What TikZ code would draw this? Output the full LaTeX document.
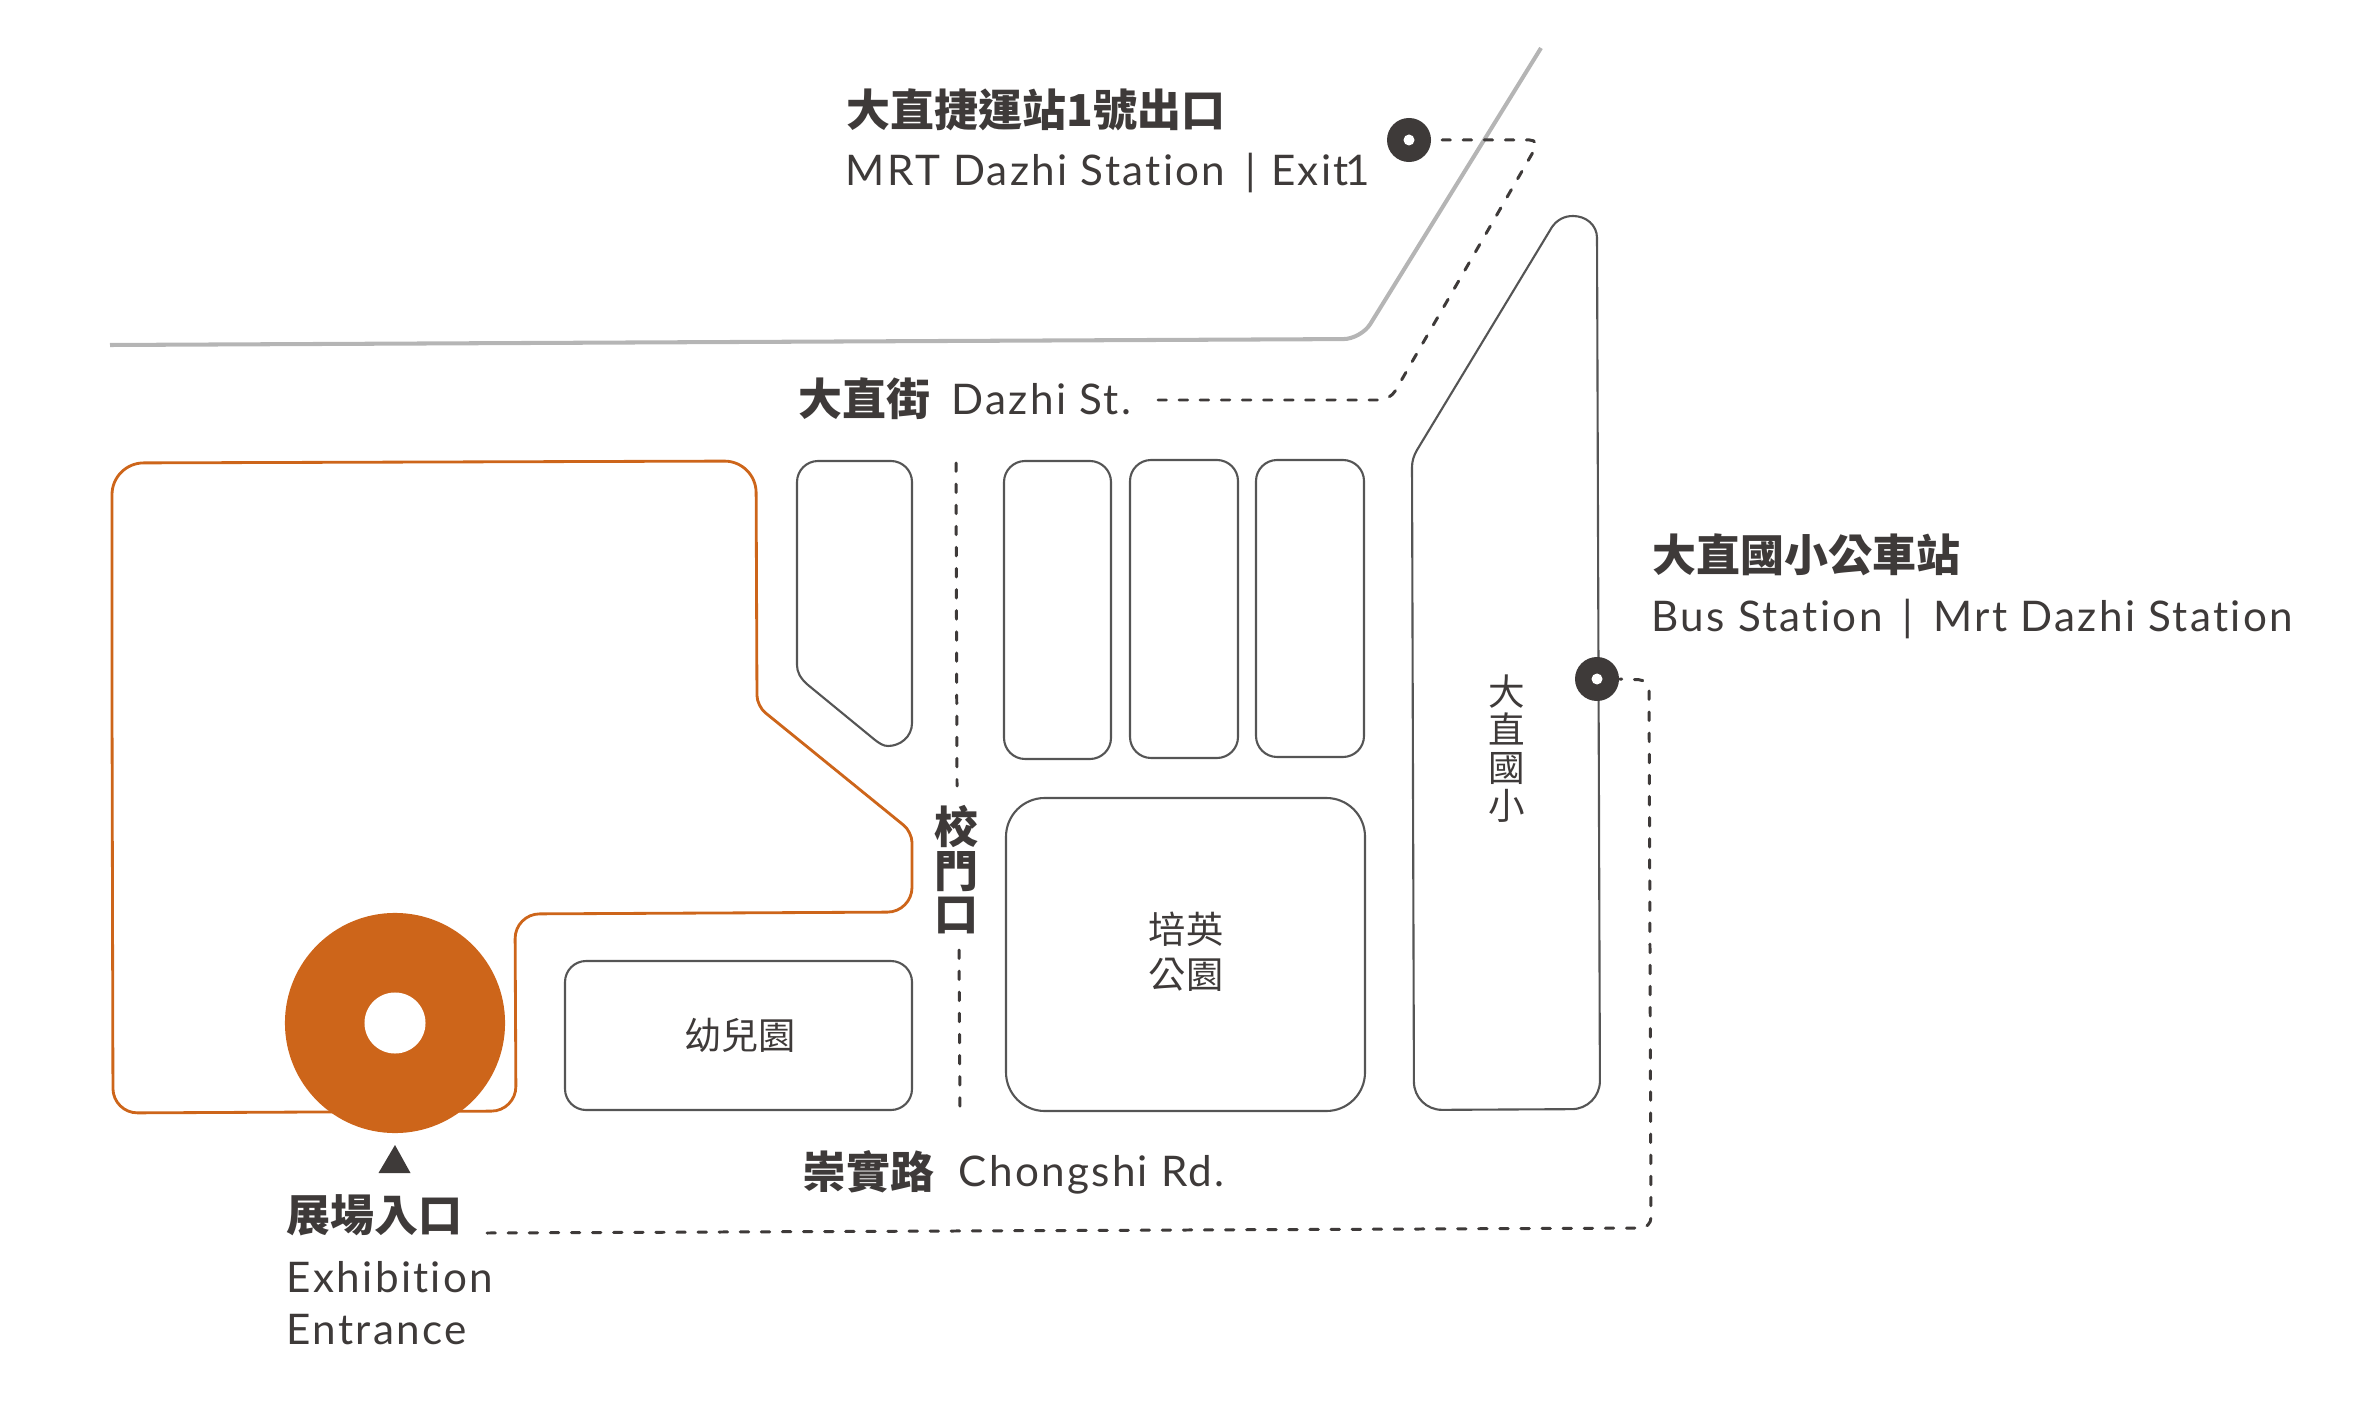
\documentclass[tikz,border=0pt]{standalone}
\usepackage{fontspec}
\setmainfont{Lato}[LetterSpace=5.5,Ligatures=CommonOff]
\newfontfamily\cjkfont{Noto Sans CJK TC}
\definecolor{MapInk}{RGB}{62,58,57}
\definecolor{MapOrange}{RGB}{205,101,26}
\definecolor{RoadGray}{RGB}{181,181,181}
\definecolor{BlockGray}{RGB}{85,85,85}
\tikzset{
  titletext/.style={anchor=base west,inner sep=0pt,text=MapInk,font=\cjkfont\bfseries\fontsize{12.5}{12.5}\selectfont},
  nametext/.style={anchor=base west,inner sep=0pt,text=MapInk,font=\fontsize{12}{12}\selectfont},
  blocktext/.style={inner sep=0pt,align=center,text=MapInk,font=\cjkfont\fontsize{10.6}{12.8}\selectfont},
  block/.style={draw=BlockGray,line width=0.6pt,rounded corners=6pt},
  siteline/.style={draw=MapOrange,line width=0.8pt},
  walkline/.style={draw=MapInk,line width=0.85pt,line cap=round,dash pattern=on 2.4pt off 3.6pt,rounded corners=3pt},
  stationdot/.style={circle,fill=MapInk,inner sep=0pt,minimum size=0.44cm},
  stationhole/.style={circle,fill=white,inner sep=0pt,minimum size=0.11cm}
}
\begin{document}
\begin{tikzpicture}[x=0.01cm,y=-0.01cm]
        \useasboundingbox (0,0) rectangle (2364,1419);
        % road and blocks
        \draw[RoadGray,line width=1.15pt,rounded corners=5pt] (110,345) -- (1361,339) -- (1541,48);
        \draw[siteline,rounded corners=9pt] (112,700) -- (112,463) -- (756,461) [rounded corners=3pt] -- (757,706) -- (912,832) [rounded corners=7pt] -- (912,912) -- (515,914) -- (516,1111) -- (113,1113) -- cycle;
        \draw[block] (797,665) -- (797,461) -- (912,461) [sharp corners] -- (912,723) .. controls (912,737) and (900,746) .. (888,746) .. controls (883,746) and (879,743) .. (875,740) -- (808,685) .. controls (800,678) and (797,672) .. (797,665) -- cycle;
        \draw[block] (1004,461) rectangle (1111,759);
        \draw[block] (1130,460) rectangle (1238,758);
        \draw[block] (1256,460) rectangle (1364,757);
        \draw[block,rounded corners=11pt] (1006,798) rectangle (1365,1111);
        \draw[block] (565,961) rectangle (912,1110);
        \draw[block,sharp corners] (1597,238) .. controls (1597,225) and (1586,216) .. (1573,216) .. controls (1564,216) and (1557,220) .. (1552,227) -- (1417,450) .. controls (1414,455) and (1412,461) .. (1412,467) [rounded corners=8pt] -- (1414,1110) -- (1600,1109) [sharp corners] -- cycle;
        % entrance
        \node[circle,fill=MapOrange,inner sep=0pt,minimum size=2.2cm] at (395,1023) (entrance) {};
        \node[circle,fill=white,inner sep=0pt,minimum size=0.61cm] at (entrance) (entrancehole) {};
        \fill[MapInk] (378.5,1173) -- (395,1145) -- (410.5,1173) -- cycle;
        % stations
        \node[stationdot] at (1409,140) (exitdot) {};
        \node[stationhole] at (exitdot) (exithole) {};
        \node[stationdot] at (1597,679) (busdot) {};
        \node[stationhole] at (busdot) (bushole) {};
        % labels
        \node[titletext] at (846,127) (exittitle) {大直捷運站1號出口};
        \node[nametext] at (845,186) (exitname) {MRT Dazhi Station \,| \kern 0.6pt Exit\kern-1pt 1};
        \node[titletext] at (798,416) (dazhititle) {大直街};
        \node[nametext] at (951,415) (dazhiname) {Dazhi St.};
        \node[titletext] at (1652,572) (bustitle) {大直國小公車站};
        \node[nametext] at (1651,632) (busname) {Bus Station \,|\, Mrt Dazhi Station};
        \node[titletext] at (802,1188) (chongshititle) {崇實路};
        \node[nametext] at (958,1186) (chongshiname) {Chongshi Rd.};
        \node[titletext] at (286,1231) (entrancetitle) {展場入口};
        \node[nametext] at (286,1292) (entranceline) {Exhibition};
        \node[nametext] at (286,1344) (entranceword) {Entrance};
        \node[titletext,anchor=center,align=center,font=\cjkfont\bfseries\fontsize{12.5}{12.4}\selectfont] at (956,870) (gatetitle) {校\\門\\口};
        \node[blocktext,font=\cjkfont\fontsize{10.4}{10.8}\selectfont] at (1507,749) (schooltext) {大\\直\\國\\小};
        \node[blocktext] at (1186,952) (parktext) {培英\\公園};
        \node[blocktext] at (740,1035) (kindertext) {幼兒園};
        % dashed routes
        \coordinate (dazhiend) at (1158,400);
        \coordinate (entranceend) at (487,1233);
        \coordinate (gatetop) at (956,463);
        \coordinate (gatemid) at (957,786);
        \coordinate (gatelow) at (959,950);
        \coordinate (gatebottom) at (960,1112);
        \draw[walkline] (dazhiend) -- (1390,400) -- (1540,140) -- (exitdot.east);
        \draw[walkline] (entranceend) -- (1651,1228) -- (1649,680) -- (busdot.east);
        \draw[walkline] (gatetop) -- (gatemid);
        \draw[walkline] (gatelow) -- (gatebottom);
\end{tikzpicture}
\end{document}
